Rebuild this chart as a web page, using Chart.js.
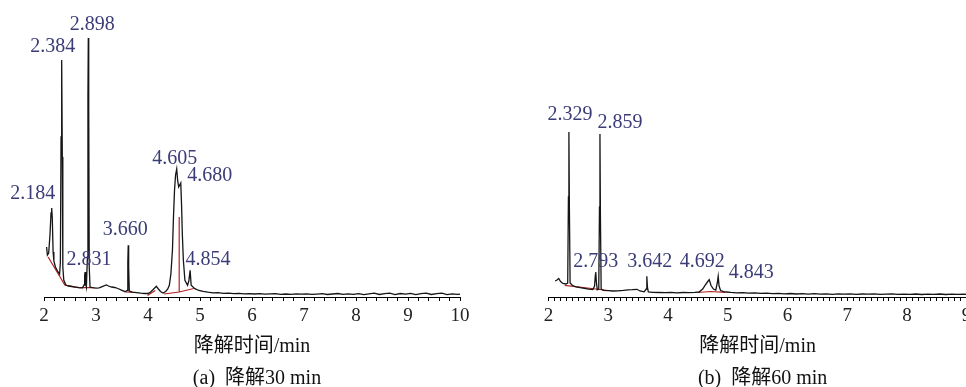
<!DOCTYPE html>
<html><head><meta charset="utf-8">
<script src="https://cdn.jsdelivr.net/npm/chart.js@4/dist/chart.umd.min.js"></script>
<style>
html,body{margin:0;padding:0;background:#fff;overflow:hidden;width:966px;height:387px;}
#wrap{position:relative;width:966px;height:387px;overflow:hidden;background:#fff;}
canvas{position:absolute;top:0;}
#cA{left:0;width:480px;height:395px;}
#cB{left:480px;width:510px;height:395px;}
</style></head>
<body><div id="wrap"><canvas id="cA" width="480" height="395"></canvas><canvas id="cB" width="510" height="395"></canvas></div>
<script>
// ---------- DATA : panel (a) 降解30 min ----------
const traceA = [
[2.05,50],[2.065,42],[2.09,44],[2.115,62],[2.135,84],[2.148,89],[2.16,78],[2.175,45],[2.19,36],[2.22,30],[2.26,26],[2.3,23],
[2.315,35],[2.328,160],[2.34,237],[2.352,140],[2.362,30],[2.38,17],[2.42,12],[2.47,11],[2.53,10.5],[2.6,9.8],[2.67,9.3],[2.74,9.2],
[2.77,12],[2.782,22],[2.79,25],[2.8,14],[2.815,10],[2.835,40],[2.845,200],[2.852,259],[2.86,190],[2.87,30],[2.885,10],[2.93,9.3],
[3.0,8.8],[3.06,9.2],[3.13,10.7],[3.2,12],[3.24,11],[3.3,10],[3.36,9.5],[3.42,8.5],[3.49,6.8],[3.56,5.3],[3.6,6.5],[3.612,35],
[3.62,51.7],[3.628,30],[3.64,6],[3.7,4.8],[3.78,4.3],[3.86,3.8],[3.93,3.5],[4.0,3.5],[4.05,5],[4.1,7.5],[4.16,10.7],[4.2,8],
[4.24,5.5],[4.29,4],[4.34,5.5],[4.38,8],[4.41,11.7],[4.44,23],[4.47,46.7],[4.49,80],[4.51,106.7],[4.53,122],[4.552,128],[4.57,116.7],
[4.59,110],[4.61,112],[4.63,114],[4.645,93],[4.66,63],[4.68,36.7],[4.71,16.7],[4.76,11.7],[4.785,16],[4.81,26.7],[4.83,11.7],[4.9,8.3],
[4.98,6.5],[5.06,5.6],[5.15,4.8],[5.25,4.2],[5.35,4.4],[5.45,3.6],[5.55,3.9],[5.65,3.3],[5.75,3.6],[5.85,3.1],[5.95,3.4],[6.05,3.0],
[6.15,3.3],[6.25,2.8],[6.35,3.1],[6.45,3.4],[6.55,2.7],[6.65,3.0],[6.75,2.6],[6.85,3.1],[6.95,2.8],[7.05,3.2],[7.15,2.6],[7.25,2.9],
[7.35,3.3],[7.45,2.5],[7.55,3.0],[7.65,3.5],[7.75,2.6],[7.85,3.1],[7.95,2.7],[8.05,3.4],[8.15,2.4],[8.25,3.2],[8.35,3.8],[8.45,2.5],
[8.55,3.3],[8.65,3.9],[8.75,2.4],[8.85,3.5],[8.95,2.8],[9.05,3.7],[9.15,2.3],[9.25,3.4],[9.35,3.9],[9.45,2.5],[9.55,3.3],[9.65,3.8],
[9.75,2.4],[9.85,3.2],[9.95,2.6],[10,2.8]
];
const baselineA = [
[2.08,40],[2.40,12],[2.67,9.3],[2.96,9.3],[2.96,null],
[3.57,5],[3.73,4.5],[3.73,null],
[3.99,1.5],[4.14,6.5],[4.14,null],
[4.31,3],[4.60,5],[4.88,8.5],[4.88,null],
[4.60,5],[4.60,80]
];
const peakLabelsA  = ['2.184','2.384','2.831','2.898','3.660','4.605','4.680','4.854'];
const peakTimesA   = [2.148, 2.34, 2.79, 2.852, 3.62, 4.552, 4.63, 4.81];
const peakHeightsA = [89, 237, 25, 259, 51.7, 128, 114, 26.7];
const xTicksA = {min: 2, max: 10, step: 0.2};
const titleA = ['降解时间/min', '\u2002(a)\u2002降解30 min'];

// ---------- DATA : panel (b) 降解60 min ----------
const traceB = [
[2.11,16],[2.14,17],[2.17,18.5],[2.2,15.5],[2.24,13.5],[2.29,13],[2.32,14],[2.332,100],[2.34,165],[2.348,90],[2.36,14],[2.4,11.5],
[2.46,10.2],[2.53,9.3],[2.6,8.6],[2.67,7.8],[2.74,7.5],[2.77,11],[2.783,22],[2.79,25],[2.8,15],[2.815,7.3],[2.84,8],[2.852,90],
[2.86,163],[2.868,80],[2.88,8],[2.92,6.7],[3.0,6.3],[3.08,6],[3.16,6.2],[3.25,6.6],[3.33,7.2],[3.4,7.3],[3.48,7.7],[3.53,6],
[3.6,5.2],[3.635,8],[3.645,20.7],[3.655,10],[3.67,5],[3.75,4.6],[3.85,4.5],[3.95,4.3],[4.05,4.6],[4.15,4.2],[4.25,4.5],[4.35,4.3],
[4.45,4.6],[4.52,5],[4.58,8],[4.62,11.7],[4.66,15],[4.69,17.4],[4.72,11.5],[4.76,8],[4.8,7],[4.825,14],[4.84,20.7],[4.855,11],
[4.88,6.5],[4.93,5.3],[4.98,5],[5.05,4.6],[5.15,4.2],[5.25,4.4],[5.35,3.8],[5.45,4.1],[5.55,3.6],[5.65,3.9],[5.75,3.4],[5.85,3.7],
[5.95,3.2],[6.05,3.5],[6.15,3.0],[6.25,3.4],[6.35,2.9],[6.45,3.3],[6.55,2.8],[6.65,3.2],[6.75,2.7],[6.85,3.1],[6.95,2.9],[7.05,3.2],
[7.15,2.6],[7.25,3.0],[7.35,2.8],[7.45,3.1],[7.55,2.6],[7.65,2.9],[7.75,3.1],[7.85,2.6],[7.95,2.9],[8.05,2.7],[8.15,3.0],[8.25,2.5],
[8.35,2.9],[8.45,2.6],[8.55,3.0],[8.65,2.5],[8.75,2.8],[8.85,2.6],[8.95,2.9],[9.0,2.7]
];
const baselineB = [
[2.27,11.7],[3.0,6.5],[3.0,null],
[4.5,4.5],[4.71,5.5],[4.96,4.7]
];
const peakLabelsB  = ['2.329','2.793','2.859','3.642','4.692','4.843'];
const peakTimesB   = [2.34, 2.79, 2.86, 3.645, 4.69, 4.84];
const peakHeightsB = [165, 25, 163, 20.7, 17.4, 20.7];
const xTicksB = {min: 2, max: 9, step: 0.1};
const titleB = ['降解时间/min', '\u2002(b)\u2002降解60 min'];

// ---------- STYLE ----------
const SERIF = '"Liberation Serif", "Noto Sans CJK SC", serif';
const LABEL_COLOR = '#3b3b78';
// label offsets in px: [dx from peak centre, dy of text baseline from peak top]
const labelNudges = {
  '2.184':[-19,-9], '2.384':[-9,-8], '2.831':[4,-7], '2.898':[4,-8], '3.660':[-3,-10],
  '4.605':[-2,-5], '4.680':[29,-2], '4.854':[18,-5],
  '2.329':[1,-12], '2.793':[0,-5], '2.859':[20,-6], '3.642':[3,-9], '4.692':[-7,-12.6], '4.843':[33,2]
};

const peakLabelPlugin = {
  id: 'peakLabels',
  afterDatasetsDraw(chart, args, opts) {
    const {ctx, scales: {x, y}} = chart;
    ctx.save();
    ctx.font = '20px ' + SERIF;
    ctx.fillStyle = LABEL_COLOR;
    ctx.textAlign = 'center';
    ctx.textBaseline = 'alphabetic';
    opts.labels.forEach((lab, i) => {
      const n = labelNudges[lab] || [0, -6];
      const px = x.getPixelForValue(opts.times[i]) + n[0];
      const py = y.getPixelForValue(opts.heights[i]) + n[1];
      ctx.fillText(lab, px, py);
    });
    ctx.restore();
  }
};

const toXY = arr => arr.map(p => ({x: p[0], y: p[1]}));

function makePanel(id, trace, baseline, labels, times, heights, ticks, title, pad) {
  const canvas = document.getElementById(id);
  return new Chart(canvas, {
    type: 'line',
    data: {
      datasets: [
        {data: toXY(trace), borderColor: '#151515', borderWidth: 1.3, pointRadius: 0, tension: 0, fill: false},
        {data: toXY(baseline), borderColor: '#b22222', borderWidth: 1.2, pointRadius: 0, tension: 0, fill: false, spanGaps: false}
      ]
    },
    options: {
      responsive: false,
      animation: false,
      devicePixelRatio: 1,
      events: [],
      layout: {padding: {left: pad.left, right: pad.right, top: 0, bottom: 0}},
      plugins: {
        legend: {display: false},
        tooltip: {enabled: false},
        peakLabels: {labels, times, heights}
      },
      scales: {
        x: {
          type: 'linear',
          min: ticks.min, max: ticks.max,
          afterFit: s => { s.height = 98; },
          border: {display: true, color: '#000', width: 1},
          grid: {display: true, drawOnChartArea: false, drawTicks: true, tickLength: 4, color: '#000', lineWidth: 1},
          ticks: {
            stepSize: ticks.step,
            autoSkip: false,
            maxRotation: 0,
            padding: 4,
            color: '#222',
            font: {family: SERIF, size: 19},
            callback: v => (Math.abs(v - Math.round(v)) < 1e-6 ? String(Math.round(v)) : '')
          },
          title: {
            display: true,
            text: title,
            color: '#111',
            font: {family: SERIF, size: 20, lineHeight: '32px'},
            padding: {top: 0, bottom: 0.5}
          }
        },
        y: {type: 'linear', display: false, min: 0, max: 297}
      }
    },
    plugins: [peakLabelPlugin]
  });
}

makePanel('cA', traceA, baselineA, peakLabelsA, peakTimesA, peakHeightsA, xTicksA, titleA, {left: 44, right: 20});
makePanel('cB', traceB, baselineB, peakLabelsB, peakTimesB, peakHeightsB, xTicksB, titleB, {left: 68.6, right: 23.4});
</script>
</body></html>
